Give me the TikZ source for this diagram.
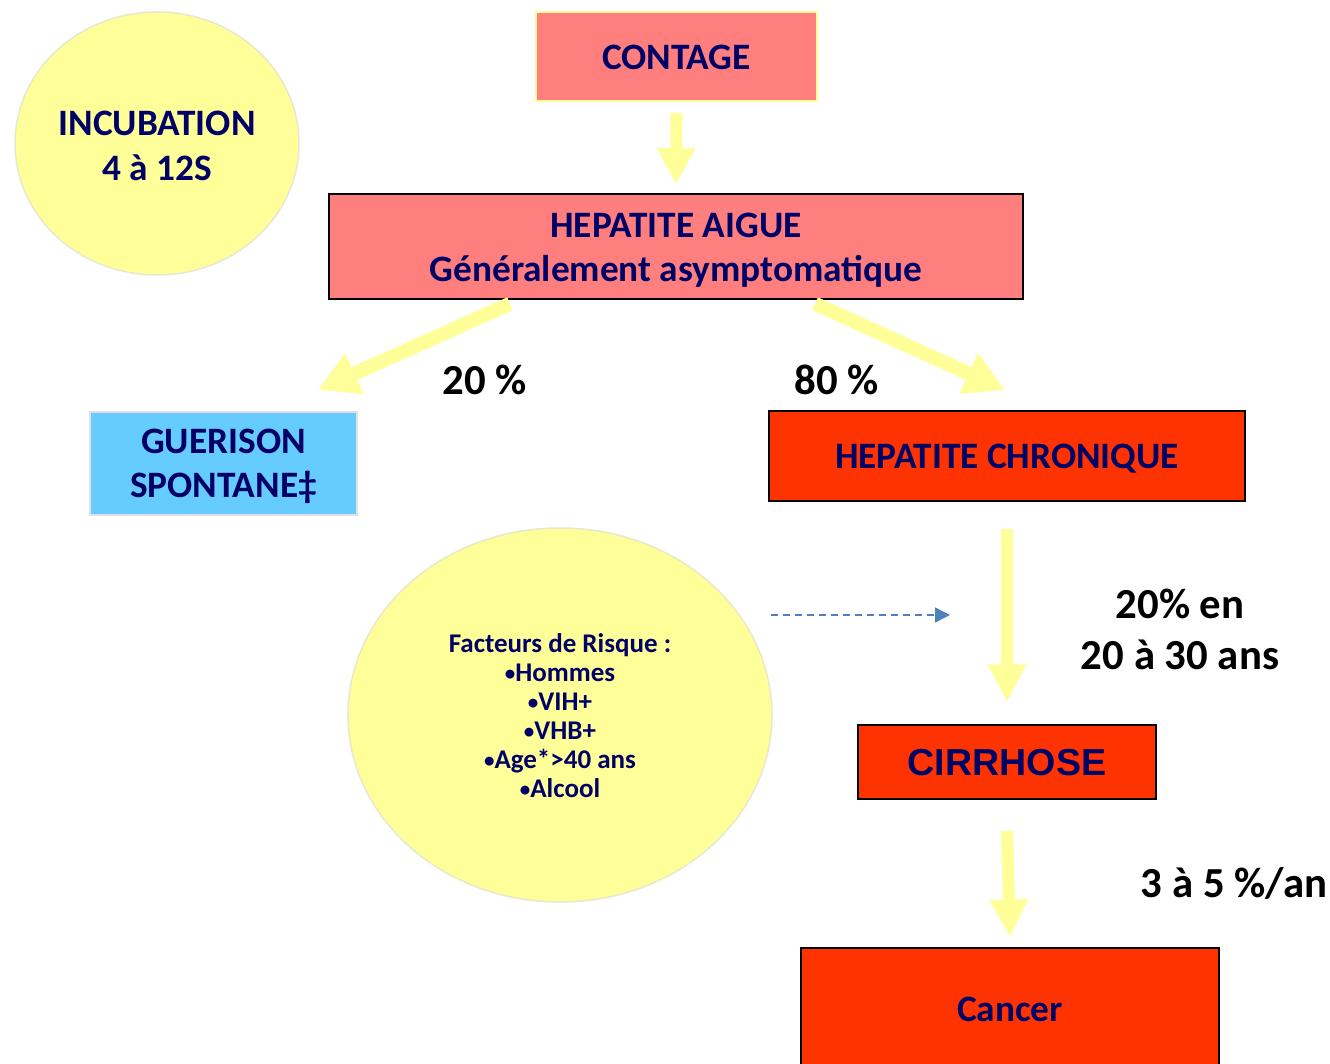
\documentclass[tikz,border=0pt]{standalone}
\usepackage{fontspec}
\setmainfont{Carlito}
\newfontfamily\arialf{Liberation Sans}
\usetikzlibrary{arrows.meta}
\definecolor{navy}{RGB}{0,0,102}
\definecolor{pale}{RGB}{255,255,153}
\definecolor{salmon}{RGB}{255,127,127}
\definecolor{redor}{RGB}{255,51,0}
\definecolor{skyb}{RGB}{102,204,255}
\definecolor{dashb}{RGB}{79,129,189}
\definecolor{circb}{RGB}{232,232,205}
\definecolor{lgrey}{RGB}{225,225,225}
\newcommand\smbul{{\fontsize{21}{29}\selectfont\raisebox{1.5pt}{•}}}
\begin{document}
\begin{tikzpicture}[x=1pt,y=-1pt,
  boxbase/.style={inner sep=0pt},
  darkbox/.style={boxbase,draw=black,line width=1.5pt},
  boxtext/.style={inner sep=0pt,align=center,text=navy,font=\bfseries\fontsize{37.3}{44}\selectfont},
  bigarrow/.style={draw=pale,line width=13pt,-{Triangle[width=38pt,length=38pt]}},
  pct/.style={font=\bfseries\fontsize{42.8}{51}\selectfont,text=black,align=center}]
\clip (0,0) rectangle (1330,1064);
\fill[white] (0,0) rectangle (1330,1064);
% incubation
\draw[circb,line width=1.5pt,fill=pale] (157,143.5) ellipse [x radius=142, y radius=131.5];
\node[boxtext,font=\bfseries\fontsize{37.3}{45}\selectfont] (incub) at (157,145.5) {INCUBATION\\4 à 12S};
% boxes
\node[boxbase,draw=pale,line width=2pt,fill=salmon,minimum width=281pt,minimum height=89pt] (contage) at (676.5,56.5) {};
\node[boxtext] (contaget) at ([yshift=-1pt]contage.center) {CONTAGE};
\node[darkbox,fill=salmon,minimum width=694pt,minimum height=105pt] (aigue) at (676,246.5) {};
\node[boxtext] (aiguet) at ([yshift=-4pt]aigue.center) {HEPATITE AIGUE\\Généralement asymptomatique};
\node[boxbase,draw=lgrey,line width=2pt,fill=skyb,minimum width=267pt,minimum height=103pt] (guer) at (223.5,463.5) {};
\node[boxtext] (guert) at ([yshift=-3pt]guer.center) {GUERISON\\SPONTANE‡};
\node[darkbox,fill=redor,minimum width=476pt,minimum height=90pt] (chron) at (1007,456) {};
\node[boxtext] (chront) at ([yshift=-3pt]chron.center) {HEPATITE CHRONIQUE};
\node[darkbox,fill=redor,minimum width=298pt,minimum height=74pt] (cirr) at (1007,762) {};
\node[boxtext,font=\arialf\bfseries\fontsize{37.6}{44}\selectfont] (cirrt) at ([yshift=-1pt]cirr.center) {CIRRHOSE};
\node[darkbox,fill=redor,minimum width=418pt,minimum height=164pt] (cancer) at (1010,1030) {};
\node[boxtext] (cancert) at (1010,1009) {Cancer};
% risk circle
\draw[circb,line width=1.5pt,fill=pale] (560,715) ellipse [x radius=212, y radius=187];
\node[align=center,text=navy,font=\bfseries\fontsize{27}{29}\selectfont] (risk) at (560,716) {Facteurs de Risque :\\\smbul Hommes\\\smbul VIH+\\\smbul VHB+\\\smbul Age*>40 ans\\\smbul Alcool};
% labels
\node[pct] (p20) at (485,380) {20 \%};
\node[pct] (p80) at (837,380) {80 \%};
\node[pct] (cir20) at (1180,629) {20\% en\\20 à 30 ans};
\node[pct] (an) at (1234,883) {3 à 5 \%/an};
% arrows
\coordinate (lend) at (318,390);
\coordinate (rend) at (1005,390);
\coordinate (dstart) at (771,615);
\coordinate (dend) at (950,615);
\draw[bigarrow,line width=12pt,-{Triangle[width=36pt,length=36pt]}] ([yshift=-11pt]contage.south) -- ([yshift=9pt]aigue.north);
\draw[bigarrow,line width=14pt,-{Triangle[width=42pt,length=40pt]}] ([xshift=-166pt,yshift=-4pt]aigue.south) -- (lend);
\draw[bigarrow,line width=14pt,-{Triangle[width=42pt,length=40pt]}] ([xshift=139pt,yshift=-4pt]aigue.south) -- (rend);
\draw[bigarrow,line width=12pt,-{Triangle[width=36pt,length=38pt]}] ([yshift=-27pt]chron.south) -- ([yshift=22pt]cirr.north);
\draw[bigarrow,line width=12pt,-{Triangle[width=36pt,length=38pt]}] ([yshift=-31pt]cirr.south) -- ([yshift=10pt]cancer.north);
\draw[dashb,line width=1.5pt,dash pattern=on 7pt off 5pt,-{Triangle[width=15pt,length=15pt]}] (dstart) -- (dend);
\end{tikzpicture}
\end{document}
